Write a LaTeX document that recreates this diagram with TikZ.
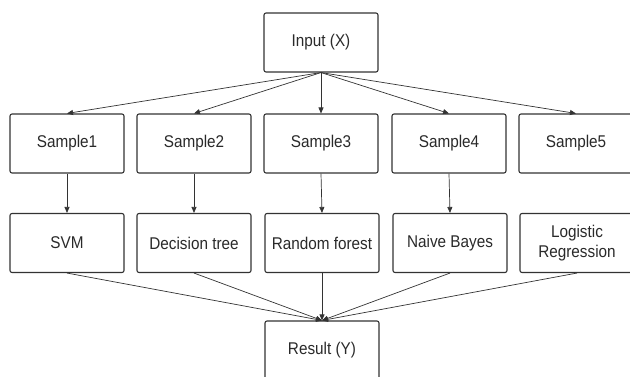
\documentclass[tikz,border=0pt]{standalone}
\usepackage{fontspec}
\setmainfont{Liberation Sans}[FakeStretch=0.9]
\usetikzlibrary{arrows.meta}
\definecolor{linec}{HTML}{333333}
\definecolor{textc}{HTML}{2A2A2A}
\begin{document}
\begin{tikzpicture}[x=1pt,y=-1pt,
  box/.style={draw=linec, line width=1.1pt, rounded corners=2pt, fill=white,
    minimum width=114pt, minimum height=59pt, inner sep=0pt,
    text=textc, align=center, font=\fontsize{17}{19.5}\selectfont},
  conn/.style={draw=linec, line width=0.7pt, -{Triangle[length=6pt,width=5pt]}}]
\useasboundingbox (0,0) rectangle (630,376);
\node[box] (in) at (321,42.5) {Input (X)};
\node[box] (s1) at (67,143.5) {Sample1};
\node[box] (s2) at (194,143.5) {Sample2};
\node[box] (s3) at (321,143.5) {Sample3};
\node[box] (s4) at (449,143.5) {Sample4};
\node[box] (s5) at (576,143.5) {Sample5};
\node[box] (m1) at (67,243) {SVM};
\node[box] (m2) at (194,243) {Decision tree};
\node[box] (m3) at (322,243) {Random forest};
\node[box] (m4) at (450,243) {Naive Bayes};
\node[box] (m5) at (577,243) {Logistic\\Regression};
\node[box] (res) at (322,350.5) {Result (Y)};
\foreach \s in {s1,s2,s3,s4,s5} \draw[conn] (in.south) -- (\s.north);
\foreach \i in {1,2,3,4} \draw[conn] (s\i.south) -- (m\i.north);
\foreach \m in {m1,m2,m3,m4,m5} \draw[conn] (\m.south) -- (res.north);
\end{tikzpicture}
\end{document}
